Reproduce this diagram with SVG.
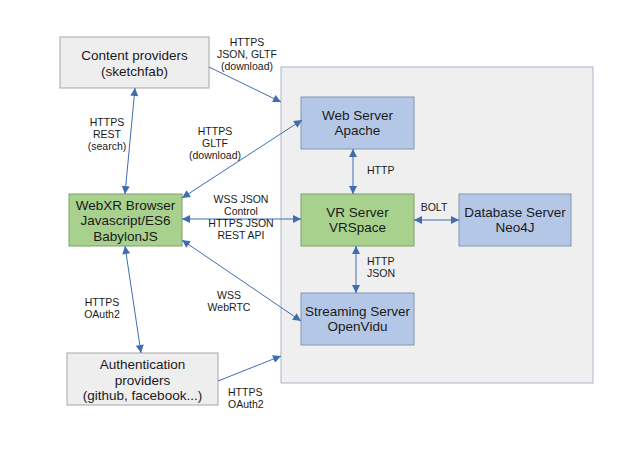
<svg xmlns="http://www.w3.org/2000/svg" width="640" height="453" viewBox="0 0 640 453">
<style>
.gray{fill:#eeeeee;stroke:#a6a6a6;stroke-width:1}
.blue{fill:#b4c7e7;stroke:#8497b0;stroke-width:1}
.green{fill:#a9d18e;stroke:#7f9f6a;stroke-width:1}
.cont{fill:#efefef;stroke:#a9b6c8;stroke-width:1}
.nt{font-family:"Liberation Sans",Arial,sans-serif;font-size:13.5px;fill:#1a1a1a;text-anchor:middle}
.lt{font-family:"Liberation Sans",Arial,sans-serif;font-size:10.5px;fill:#1a1a1a}
.c{text-anchor:middle}
.ln{stroke:#3f6db0;stroke-width:1;fill:none}
</style>
<defs>
<marker id="ah" viewBox="0 0 10 10" refX="10" refY="5" markerWidth="9" markerHeight="8" markerUnits="userSpaceOnUse" orient="auto-start-reverse">
<path d="M0,0 L10,5 L0,10 z" fill="#3f6db0"/>
</marker>
</defs>
<rect x="0" y="0" width="640" height="453" fill="#ffffff"/>
<g id="container"><rect class="cont" x="281" y="67" width="312" height="316"/></g>
<g id="content"><rect class="gray" x="60" y="37" width="149" height="51"/>
<text class="nt" x="134.5" y="59.5">Content providers</text><text class="nt" x="134.5" y="76">(sketchfab)</text></g>
<g id="webxr"><rect class="green" x="69" y="194" width="113" height="52"/>
<text class="nt" x="125.5" y="209.5">WebXR Browser</text><text class="nt" x="125.5" y="225">Javascript/ES6</text><text class="nt" x="125.5" y="240.5">BabylonJS</text></g>
<g id="auth"><rect class="gray" x="67" y="353" width="151" height="52"/>
<text class="nt" x="142.5" y="369">Authentication</text><text class="nt" x="142.5" y="384.5">providers</text><text class="nt" x="142.5" y="400">(github, facebook...)</text></g>
<g id="web"><rect class="blue" x="301" y="97" width="113" height="52"/>
<text class="nt" x="357.5" y="119.5">Web Server</text><text class="nt" x="357.5" y="135">Apache</text></g>
<g id="vr"><rect class="green" x="301" y="194" width="113" height="52"/>
<text class="nt" x="357.5" y="216.5">VR Server</text><text class="nt" x="357.5" y="232">VRSpace</text></g>
<g id="db"><rect class="blue" x="459" y="194" width="112" height="52"/>
<text class="nt" x="515" y="216.5">Database Server</text><text class="nt" x="515" y="232">Neo4J</text></g>
<g id="stream"><rect class="blue" x="301" y="293" width="113" height="52"/>
<text class="nt" x="357.5" y="315.5">Streaming Server</text><text class="nt" x="357.5" y="331">OpenVidu</text></g>
<g id="connectors">
<line class="ln" x1="209" y1="67" x2="281" y2="102" marker-end="url(#ah)"/>
<line class="ln" x1="125" y1="194" x2="135" y2="88" marker-start="url(#ah)" marker-end="url(#ah)"/>
<line class="ln" x1="182" y1="198" x2="302" y2="120" marker-start="url(#ah)" marker-end="url(#ah)"/>
<line class="ln" x1="182" y1="219" x2="301" y2="219" marker-start="url(#ah)" marker-end="url(#ah)"/>
<line class="ln" x1="182" y1="240" x2="301" y2="321" marker-start="url(#ah)" marker-end="url(#ah)"/>
<line class="ln" x1="125" y1="246" x2="141" y2="353" marker-start="url(#ah)" marker-end="url(#ah)"/>
<line class="ln" x1="218" y1="381" x2="281" y2="356" marker-end="url(#ah)"/>
<line class="ln" x1="353" y1="149" x2="353" y2="194" marker-start="url(#ah)" marker-end="url(#ah)"/>
<line class="ln" x1="356" y1="246" x2="356" y2="293" marker-start="url(#ah)" marker-end="url(#ah)"/>
<line class="ln" x1="414" y1="220" x2="459" y2="220" marker-start="url(#ah)" marker-end="url(#ah)"/>
</g>
<g id="labels">
<text class="lt c" x="247" y="45.5">HTTPS</text><text class="lt c" x="247" y="57.5">JSON, GLTF</text><text class="lt c" x="247" y="69.5">(download)</text>
<text class="lt c" x="107" y="125.5">HTTPS</text><text class="lt c" x="107" y="137.5">REST</text><text class="lt c" x="107" y="149.5">(search)</text>
<text class="lt c" x="215" y="134.5">HTTPS</text><text class="lt c" x="215" y="146.5">GLTF</text><text class="lt c" x="215" y="158.5">(download)</text>
<text class="lt c" x="241" y="202.5">WSS JSON</text><text class="lt c" x="241" y="214.5">Control</text><text class="lt c" x="241" y="226.5">HTTPS JSON</text><text class="lt c" x="241" y="238.5">REST API</text>
<text class="lt c" x="102" y="305.5">HTTPS</text><text class="lt c" x="102" y="317.5">OAuth2</text>
<text class="lt c" x="229" y="298.5">WSS</text><text class="lt c" x="229" y="310.5">WebRTC</text>
<text class="lt" x="228" y="395.5">HTTPS</text><text class="lt" x="228" y="407.5">OAuth2</text>
<text class="lt" x="367" y="173.5">HTTP</text>
<text class="lt c" x="434" y="210.5">BOLT</text>
<text class="lt" x="367" y="264.5">HTTP</text><text class="lt" x="367" y="276.5">JSON</text>
</g>
</svg>
